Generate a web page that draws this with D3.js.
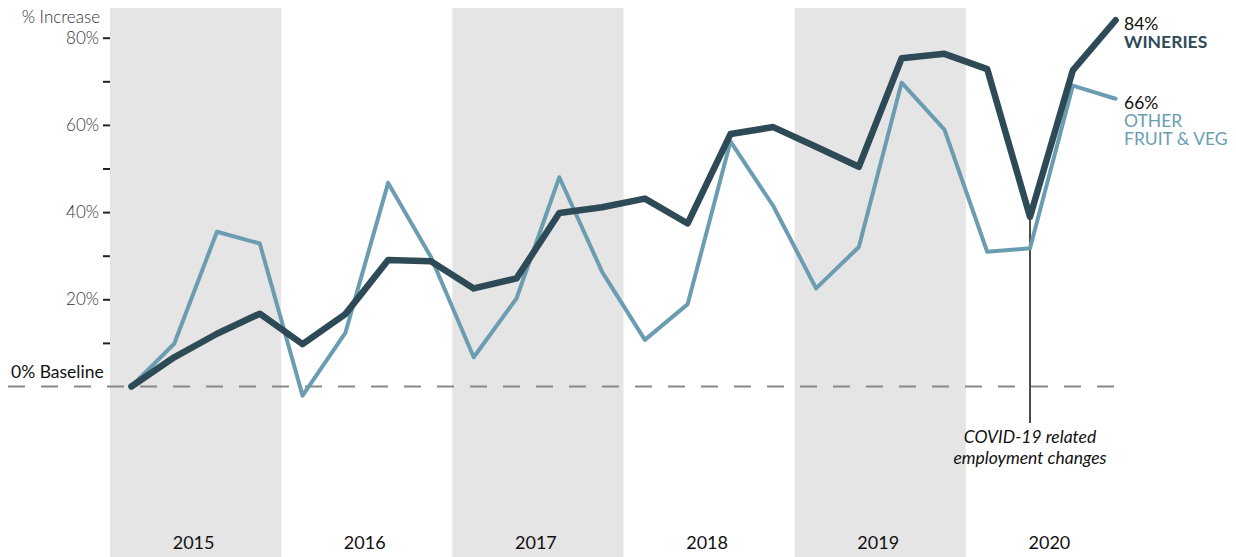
<!DOCTYPE html>
<html>
<head>
<meta charset="utf-8">
<script src="https://cdn.jsdelivr.net/npm/d3@7"></script>
<style>
  body { margin: 0; background: #fff; }
  svg { display: block; font-family: Lato, "Open Sans", sans-serif; }
</style>
</head>
<body>
<script>
var width = 1236, height = 557

// data, quarterly % increase since Q1 2015
var years = [2015, 2016, 2017, 2018, 2019, 2020]
var wineries = [0, 6.7, 12.1, 16.7, 9.7, 16.6, 29.0, 28.7, 22.5, 24.8, 39.8, 41.1,
  43.1, 37.4, 57.9, 59.5, 55.0, 50.4, 75.3, 76.3, 72.8, 38.9, 72.5, 84]
var otherFruitVeg = [0, 9.8, 35.5, 32.8, -2.1, 12.3, 46.7, 29.7, 6.7, 20.2, 48.0, 26.3,
  10.7, 18.9, 56.2, 41.4, 22.5, 32.0, 69.7, 58.9, 30.9, 31.7, 69.0, 66]
var yTicks = [10, 20, 30, 40, 50, 60, 70, 80]
var yLabels = [20, 40, 60, 80]
var covidQuarter = 21

var darkCol = "#2e4a57"
var lightCol = "#6b9db2"

var svg = d3.select("body")
  .append("svg")
  .attr("width", width)
  .attr("height", height)

var x = d3.scaleLinear()
  .domain([0, years.length * 4])
  .range([110, 1137])

var y = d3.scaleLinear()
  .domain([0, 80])
  .range([386.5, 37.7])

// alternating year bands
svg.selectAll(".band")
  .data(years)
  .enter()
  .append("rect")
  .attr("class", "band")
  .attr("x", function(d, i) { return x(i * 4) })
  .attr("width", x(4) - x(0))
  .attr("y", 8)
  .attr("height", height - 8)
  .attr("fill", function(d, i) { return i % 2 == 0 ? "#e5e5e5" : "none" })

svg.selectAll(".yearLabel")
  .data(years)
  .enter()
  .append("text")
  .attr("class", "yearLabel")
  .attr("x", function(d, i) { return x(i * 4 + 2) - 2 })
  .attr("y", 549)
  .attr("text-anchor", "middle")
  .attr("font-size", 18)
  .attr("fill", "#111")
  .text(function(d) { return d })

// y axis (ticks only)
var yAxis = svg.append("g")
  .attr("transform", "translate(110,0)")
  .call(d3.axisLeft(y).tickValues(yTicks).tickSize(7).tickPadding(4)
    .tickFormat(function(d) { return yLabels.indexOf(d) >= 0 ? d + "%" : "" }))
yAxis.select(".domain").remove()
yAxis.selectAll(".tick line").attr("stroke", "#222").attr("stroke-width", 2)
yAxis.selectAll(".tick text")
  .attr("font-family", "Lato, sans-serif")
  .attr("font-size", 17)
  .attr("font-weight", 300)
  .attr("fill", "#333")

svg.append("text")
  .attr("x", 100)
  .attr("y", 23)
  .attr("text-anchor", "end")
  .attr("font-size", 17)
  .attr("font-weight", 300)
  .attr("fill", "#333")
  .text("% Increase")

// baseline
svg.append("line")
  .attr("x1", 8)
  .attr("x2", x(23.5))
  .attr("y1", y(0))
  .attr("y2", y(0))
  .attr("stroke", "#888")
  .attr("stroke-width", 2)
  .attr("stroke-dasharray", "17,16")

svg.append("text")
  .attr("x", 11)
  .attr("y", 378)
  .attr("font-size", 17.5)
  .attr("fill", "#111")
  .text("0% Baseline")

// covid marker
svg.append("line")
  .attr("x1", x(covidQuarter + 0.5))
  .attr("x2", x(covidQuarter + 0.5))
  .attr("y1", y(wineries[covidQuarter]))
  .attr("y2", 423)
  .attr("stroke", "#111")
  .attr("stroke-width", 1.5)

svg.selectAll(".covidNote")
  .data(["COVID-19 related", "employment changes"])
  .enter()
  .append("text")
  .attr("class", "covidNote")
  .attr("x", x(covidQuarter + 0.5))
  .attr("y", function(d, i) { return 443 + i * 21 })
  .attr("text-anchor", "middle")
  .attr("font-size", 17.5)
  .attr("font-style", "italic")
  .attr("fill", "#111")
  .text(function(d) { return d })

// lines
var line = d3.line()
  .x(function(d, i) { return x(i + 0.5) })
  .y(function(d) { return y(d) })

svg.append("path")
  .datum(otherFruitVeg)
  .attr("d", line)
  .attr("fill", "none")
  .attr("stroke", lightCol)
  .attr("stroke-width", 4)
  .attr("stroke-linejoin", "round")
  .attr("stroke-linecap", "round")

svg.append("path")
  .datum(wineries)
  .attr("d", line)
  .attr("fill", "none")
  .attr("stroke", darkCol)
  .attr("stroke-width", 6.5)
  .attr("stroke-linejoin", "round")
  .attr("stroke-linecap", "round")

// end labels
var lx = 1124
var endLabels = [
  { text: d3.format(".0f")(wineries[wineries.length - 1]) + "%", y: 30, fill: "#111", weight: 400 },
  { text: "WINERIES", y: 48, fill: darkCol, weight: 700 },
  { text: d3.format(".0f")(otherFruitVeg[otherFruitVeg.length - 1]) + "%", y: 109, fill: "#111", weight: 400 },
  { text: "OTHER", y: 127, fill: lightCol, weight: 400 },
  { text: "FRUIT & VEG", y: 145, fill: lightCol, weight: 400 }
]
svg.selectAll(".endLabel")
  .data(endLabels)
  .enter()
  .append("text")
  .attr("class", "endLabel")
  .attr("x", lx)
  .attr("y", function(d) { return d.y })
  .attr("font-size", 17.5)
  .attr("font-weight", function(d) { return d.weight })
  .attr("fill", function(d) { return d.fill })
  .text(function(d) { return d.text })
</script>
</body>
</html>
